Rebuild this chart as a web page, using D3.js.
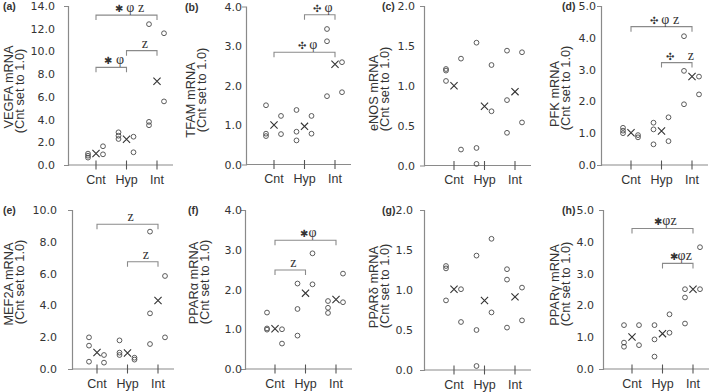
<!DOCTYPE html>
<html>
<head>
<meta charset="utf-8">
<script src="https://cdn.jsdelivr.net/npm/d3@7"></script>
<style>
  body { margin: 0; background: #fff; }
  svg text { font-family: "Liberation Sans", Arial, sans-serif; fill: #333; }
</style>
</head>
<body>
<div id="chart"></div>
<script>
// Groups On The X Axis
const groups = ["Cnt", "Hyp", "Int"];

// Panel Titles & Letters
const letters = ["(a)", "(b)", "(c)", "(d)", "(e)", "(f)", "(g)", "(h)"];
const titles = ["VEGFA mRNA", "TFAM mRNA", "eNOS mRNA", "PFK mRNA", "MEF2A mRNA", "PPARα mRNA", "PPARδ mRNA", "PPARγ mRNA"];
const subtitle = "(Cnt set to 1.0)";

// Y Axis Extent & Tick Step Per Panel
const yMax = [14, 4, 2, 5, 10, 4, 2, 5];
const yStep = [2, 1, 0.5, 1, 2, 1, 0.5, 1];

// Individual Values Per Group (Cnt, Hyp, Int): first three sit left of the tick, last two right
const vegfa = [[1.0, 0.82, 0.65, 1.65, 0.94], [2.88, 2.58, 2.29, 2.49, 1.12], [12.4, 3.8, 3.5, 11.6, 5.6]];
const tfam  = [[1.5, 0.78, 0.72, 1.23, 0.77], [1.38, 0.83, 0.61, 1.23, 0.78], [3.43, 3.12, 1.73, 2.59, 1.83]];
const enos  = [[1.21, 1.19, 1.06, 1.34, 0.2], [1.54, 0.22, 0.02, 1.26, 0.68], [1.44, 0.82, 0.41, 1.42, 0.54]];
const pfk   = [[1.17, 1.08, 1.0, 0.94, 0.87], [1.33, 1.12, 0.65, 1.5, 0.75], [4.05, 2.96, 1.91, 2.78, 2.22]];
const mef2a = [[1.99, 1.47, 0.46, 0.88, 0.4], [1.8, 1.03, 0.88, 0.71, 0.59], [8.64, 3.5, 1.57, 5.85, 1.99]];
const pparA = [[1.42, 1.02, 0.99, 1.0, 0.64], [2.15, 1.51, 0.84, 2.91, 2.13], [1.71, 1.54, 1.41, 2.4, 1.68]];
const pparD = [[1.3, 1.27, 0.87, 1.01, 0.6], [1.43, 0.5, 0.05, 1.64, 0.72], [1.26, 1.13, 0.53, 1.03, 0.62]];
const pparG = [[1.38, 0.83, 0.7, 1.38, 0.75], [1.38, 0.93, 0.39, 1.72, 1.14], [2.51, 2.25, 1.43, 3.83, 2.51]];
const values = [vegfa, tfam, enos, pfk, mef2a, pparA, pparD, pparG];

// Significance Brackets: [from group, to group, level, label]
const brackets = [
  [["Cnt", "Int", 13.2, "✱ φ z"], ["Hyp", "Int", 10.07, "z"], ["Cnt", "Hyp", 8.6, "✱ φ"]],
  [["Hyp", "Int", 3.79, "✣ φ"], ["Cnt", "Int", 2.84, "✣ φ"]],
  [],
  [["Cnt", "Int", 4.35, "✣ φ z"], ["Hyp", "Int", 3.22, "✣    z"]],
  [["Cnt", "Int", 9.1, "z"], ["Hyp", "Int", 6.75, "z"]],
  [["Cnt", "Int", 3.24, "✱φ"], ["Cnt", "Hyp", 2.49, "z"]],
  [],
  [["Cnt", "Int", 4.42, "✱φz"], ["Hyp", "Int", 3.32, "✱φz"]]
];

// Panel Layout (axis x, first group x, plot top/bottom, tick label gap, title x, title centres, letter x)
const layout = [
  { ax: 68,  c0: 96,  top: 6,   bot: 165, gap: 13, tx: 8,   ty: [87, 91],   lx: 3 },
  { ax: 246, c0: 274, top: 6.5, bot: 164.5, gap: 4, tx: 190, ty: [100, 90], lx: 185 },
  { ax: 424, c0: 454, top: 6,   bot: 165.5, gap: 9, tx: 373, ty: [93, 89],  lx: 382 },
  { ax: 601, c0: 631, top: 6,   bot: 165, gap: 5,  tx: 554, ty: [94, 88],   lx: 562 },
  { ax: 72,  c0: 97,  top: 210, bot: 369, gap: 15, tx: 8,   ty: [284, 282], lx: 3 },
  { ax: 245, c0: 275, top: 210, bot: 369, gap: 3,  tx: 193, ty: [283, 282], lx: 188 },
  { ax: 424, c0: 454, top: 210, bot: 370, gap: 11, tx: 373, ty: [287, 286], lx: 382 },
  { ax: 603, c0: 632, top: 210, bot: 369, gap: 9,  tx: 554, ty: [285, 284], lx: 562 }
];

const axisColor = "#8a8a8a", markColor = "#4a4a4a";

const svg = d3.select("#chart").append("svg").attr("width", 709).attr("height", 392);

values.forEach((vals, k) => {
  const L = layout[k];
  const y = d3.scaleLinear().domain([0, yMax[k]]).range([L.bot, L.top]);
  const x = d3.scalePoint().domain(groups).range([L.c0, L.c0 + 61]);
  const g = svg.append("g");

  // Y Axis
  const ticks = d3.range(0, yMax[k] + yStep[k] / 2, yStep[k]);
  const yAxis = g.append("g").attr("transform", `translate(${L.ax},0)`)
    .call(d3.axisLeft(y).tickValues(ticks).tickFormat(d3.format(".1f")).tickSizeInner(0).tickSizeOuter(4).tickPadding(L.gap));
  yAxis.select(".domain").attr("stroke", axisColor).attr("stroke-width", 1.2);
  yAxis.selectAll("text").style("font-family", "'DejaVu Sans', sans-serif").style("font-size", "11px").attr("fill", "#3a3a3a");

  // X Axis Line & Crossing Ticks
  g.append("line").attr("x1", L.ax).attr("x2", L.c0 + 77).attr("y1", L.bot).attr("y2", L.bot)
    .attr("stroke", axisColor).attr("stroke-width", 1.2);
  g.selectAll(".xt").data(groups).enter().append("line")
    .attr("x1", d => x(d)).attr("x2", d => x(d)).attr("y1", L.bot - 4.5).attr("y2", L.bot + 4.5)
    .attr("stroke", "#555").attr("stroke-width", 1.1);
  g.selectAll(".xl").data(groups).enter().append("text")
    .attr("x", d => x(d)).attr("y", L.bot + 18.5).attr("text-anchor", "middle")
    .style("font-size", "12.5px").text(d => d);

  // Axis Title (two lines, rotated)
  [titles[k], subtitle].forEach((t, i) => {
    const cx = L.tx + i * 11.5, cy = L.ty[i];
    g.append("text").attr("transform", `translate(${cx + 4.5},${cy}) rotate(-90)`)
      .attr("text-anchor", "middle").style("font-size", "12.8px").text(t);
  });

  // Panel Letter
  g.append("text").attr("x", L.lx).attr("y", L.top + 4).style("font-size", "10.5px").style("font-weight", "bold").text(letters[k]);

  // Individual Points
  vals.forEach((arr, gi) => {
    const cx = x(groups[gi]);
    g.selectAll(null).data(arr).enter().append("circle")
      .attr("cx", (d, j) => cx + (j < 3 ? -8 : 7)).attr("cy", d => y(d)).attr("r", 2.4)
      .attr("fill", "none").attr("stroke", markColor).attr("stroke-width", 0.9);
    // Group Mean Marker
    const m = y(d3.mean(arr)), s = 3.6;
    g.append("path").attr("d", `M${cx - s},${m - s}L${cx + s},${m + s}M${cx - s},${m + s}L${cx + s},${m - s}`)
      .attr("stroke", "#333").attr("stroke-width", 1.1).attr("fill", "none");
  });

  // Significance Brackets
  brackets[k].forEach(b => {
    const x1 = x(b[0]), x2 = x(b[1]), by = y(b[2]);
    g.append("path").attr("d", `M${x1},${by + 5}V${by}H${x2}V${by + 5}`)
      .attr("fill", "none").attr("stroke", axisColor).attr("stroke-width", 1.1);
    const label = g.append("text").attr("x", (x1 + x2) / 2 + 3).attr("y", by - 3).attr("text-anchor", "middle")
      .style("font-family", "'Liberation Serif', 'Times New Roman', serif").style("font-size", "14px")
      .style("white-space", "pre").attr("fill", "#333");
    Array.from(b[3]).forEach(ch => {
      const sym = ch === "✱" || ch === "✣";
      label.append("tspan").style("font-size", sym ? "9.5px" : "14px").text(ch);
    });
  });
});
</script>
</body>
</html>
